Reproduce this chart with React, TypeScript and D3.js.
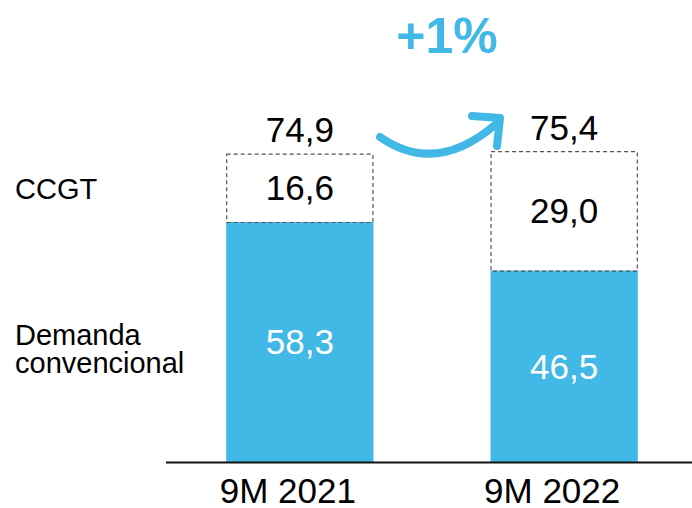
import React, { useEffect, useRef } from 'react';
import * as d3 from 'd3';

const categories = ['9M 2021', '9M 2022'];
const demanda = [58.3, 46.5];
const ccgt = [16.6, 29.0];
const totals = [74.9, 75.4];
const seriesLabels = ['CCGT', 'Demanda convencional'];
const changeLabel = '+1%';

const fmt = (v: number) => v.toFixed(1).replace('.', ',');

const App = () => {
  const ref = useRef<SVGSVGElement>(null);

  useEffect(() => {
    const width = 692;
    const height = 508;
    const font = '"Liberation Sans", Arial, sans-serif';
    const blue = '#41b8e5';

    const svg = d3.select(ref.current)
      .attr('width', width)
      .attr('height', height);

    svg.selectAll('*').remove();

    // Scales
    const x = d3.scaleBand()
      .domain(categories)
      .range([94, 770])
      .paddingInner(0.443)
      .paddingOuter(0.5);

    const y = d3.scaleLinear()
      .domain([0, 100])
      .range([462, 50.3]);

    const rows = categories.map((c, i) => ({
      cat: c,
      demanda: demanda[i],
      ccgt: ccgt[i],
      total: totals[i],
    }));

    // Blue bars (Demanda convencional)
    svg.selectAll('rect.dem')
      .data(rows)
      .join('rect')
      .attr('class', 'dem')
      .attr('x', d => x(d.cat)!)
      .attr('y', d => y(d.demanda))
      .attr('width', x.bandwidth())
      .attr('height', d => y(0) - y(d.demanda))
      .attr('fill', blue);

    // Dashed boxes (CCGT)
    svg.selectAll('rect.ccgt')
      .data(rows)
      .join('rect')
      .attr('class', 'ccgt')
      .attr('x', d => x(d.cat)! + 0.5)
      .attr('y', d => y(d.demanda + d.ccgt) + 0.5)
      .attr('width', x.bandwidth() - 1)
      .attr('height', d => y(d.demanda) - y(d.demanda + d.ccgt))
      .attr('fill', 'none')
      .attr('stroke', '#555')
      .attr('stroke-width', 1.2)
      .attr('stroke-dasharray', '4,3');

    // Baseline
    svg.append('line')
      .attr('x1', 166)
      .attr('x2', width)
      .attr('y1', y(0) + 0.5)
      .attr('y2', y(0) + 0.5)
      .attr('stroke', '#111')
      .attr('stroke-width', 2);

    const cx = (c: string) => x(c)! + x.bandwidth() / 2;

    // Segment values
    svg.selectAll('text.dem')
      .data(rows)
      .join('text')
      .attr('class', 'dem')
      .attr('x', d => cx(d.cat))
      .attr('y', d => (y(0) + y(d.demanda)) / 2)
      .attr('dy', '0.35em')
      .attr('text-anchor', 'middle')
      .attr('font-family', font)
      .attr('font-size', 35)
      .attr('fill', '#fff')
      .text(d => fmt(d.demanda));

    svg.selectAll('text.ccgt')
      .data(rows)
      .join('text')
      .attr('class', 'ccgt')
      .attr('x', d => cx(d.cat))
      .attr('y', d => (y(d.demanda) + y(d.demanda + d.ccgt)) / 2)
      .attr('dy', '0.35em')
      .attr('text-anchor', 'middle')
      .attr('font-family', font)
      .attr('font-size', 35)
      .attr('fill', '#000')
      .text(d => fmt(d.ccgt));

    // Totals
    svg.selectAll('text.total')
      .data(rows)
      .join('text')
      .attr('class', 'total')
      .attr('x', d => cx(d.cat))
      .attr('y', d => y(d.total) - 12)
      .attr('text-anchor', 'middle')
      .attr('font-family', font)
      .attr('font-size', 35)
      .attr('fill', '#000')
      .text(d => fmt(d.total));

    // Category labels
    svg.selectAll('text.cat')
      .data(categories)
      .join('text')
      .attr('class', 'cat')
      .attr('x', d => cx(d) - 12)
      .attr('y', 503)
      .attr('text-anchor', 'middle')
      .attr('font-family', font)
      .attr('font-size', 35)
      .attr('fill', '#000')
      .text(d => d);

    // Series labels on the left
    svg.append('text')
      .attr('x', 15)
      .attr('y', 199)
      .attr('font-family', font)
      .attr('font-size', 29)
      .attr('fill', '#000')
      .text(seriesLabels[0]);

    const dl = svg.append('text')
      .attr('font-family', font)
      .attr('font-size', 29)
      .attr('fill', '#000');
    seriesLabels[1].split(' ').forEach((w, i) => {
      dl.append('tspan')
        .attr('x', 15)
        .attr('y', 345 + i * 28)
        .text(w);
    });

    // Growth arrow
    svg.append('path')
      .attr('d', 'M380,137 Q436,176 496,124')
      .attr('fill', 'none')
      .attr('stroke', blue)
      .attr('stroke-width', 8)
      .attr('stroke-linecap', 'round');

    svg.append('path')
      .attr('d', 'M472,116 L500,118 L497,146')
      .attr('fill', 'none')
      .attr('stroke', blue)
      .attr('stroke-width', 8)
      .attr('stroke-linecap', 'round')
      .attr('stroke-linejoin', 'round');

    svg.append('text')
      .attr('x', 447)
      .attr('y', 53)
      .attr('text-anchor', 'middle')
      .attr('font-family', font)
      .attr('font-size', 50)
      .attr('font-weight', 'bold')
      .attr('fill', blue)
      .text(changeLabel);
  }, []);

  return <svg ref={ref} style={{ position: 'absolute', left: 0, top: 0 }}></svg>;
};

export default App;
